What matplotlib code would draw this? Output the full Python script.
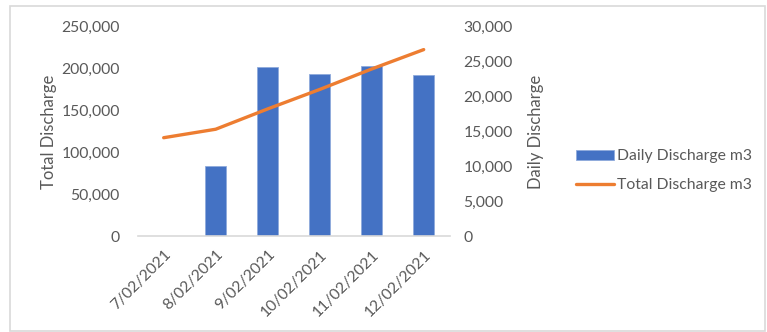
import matplotlib
matplotlib.use('Agg')
import matplotlib.pyplot as plt
import numpy as np
from matplotlib.patches import Rectangle
from matplotlib.ticker import FuncFormatter

dates = ['7/02/2021', '8/02/2021', '9/02/2021', '10/02/2021', '11/02/2021', '12/02/2021']
daily = [0, 10100, 24200, 23200, 24400, 23100]
total = [117700, 127800, 152000, 175200, 199600, 222700]

plt.rcParams['font.family'] = ['Lato', 'DejaVu Sans']
txt = '#595959'
grey = '#d9d9d9'

fig = plt.figure(figsize=(7.67, 3.32), dpi=100)
fig.patches.append(Rectangle((10 / 767, 1 / 332), 755 / 767, 325 / 332, transform=fig.transFigure,
                             fill=False, edgecolor=grey, linewidth=1.2))

ax = fig.add_axes([0.1795, 0.2877, 0.4068, 0.6319])
ax2 = ax.twinx()
x = np.arange(len(dates))

# daily bars on the right axis, cumulative line on the left axis
bars = ax2.bar(x, daily, width=0.4, color='#4472C4', edgecolor='#8faadc', linewidth=0.6,
               label='Daily Discharge m3')
ln, = ax.plot(x, total, color='#ED7D31', linewidth=2.4, solid_capstyle='round',
              label='Total Discharge m3')
ax.set_zorder(ax2.get_zorder() + 1)
ax.patch.set_visible(False)

ax.set_xlim(-0.5, len(dates) - 0.5)
ax.set_ylim(0, 250000)
ax2.set_ylim(0, 30000)
ax.set_yticks(np.arange(0, 250001, 50000))
ax2.set_yticks(np.arange(0, 30001, 5000))
fmt = FuncFormatter(lambda v, p: f'{int(v):,}')
ax.yaxis.set_major_formatter(fmt)
ax2.yaxis.set_major_formatter(fmt)

for a in (ax, ax2):
    for s in a.spines.values():
        s.set_visible(False)
    a.tick_params(axis='both', length=0, labelsize=11.3, colors=txt)
ax.spines['bottom'].set_visible(True)
ax.spines['bottom'].set_color(grey)
ax.spines['bottom'].set_linewidth(1.2)
ax.tick_params(axis='y', pad=13)
ax2.tick_params(axis='y', pad=10)

ax.set_xticks(x)
ax.set_xticklabels(dates, rotation=45, ha='right', rotation_mode='anchor')
ax.tick_params(axis='x', pad=8)

ax.set_ylabel('Total Discharge', fontsize=12, color=txt, labelpad=3)
ax2.set_ylabel('Daily Discharge', fontsize=12, color=txt, labelpad=11)

fig.legend(handles=[bars, ln], loc='center left', bbox_to_anchor=(0.733, 0.486),
           frameon=False, fontsize=11.3, labelcolor=txt, handlelength=2.4,
           handletextpad=0.2, labelspacing=0.95, handleheight=0.6)

fig.savefig('out.png', dpi=100, facecolor='white')
